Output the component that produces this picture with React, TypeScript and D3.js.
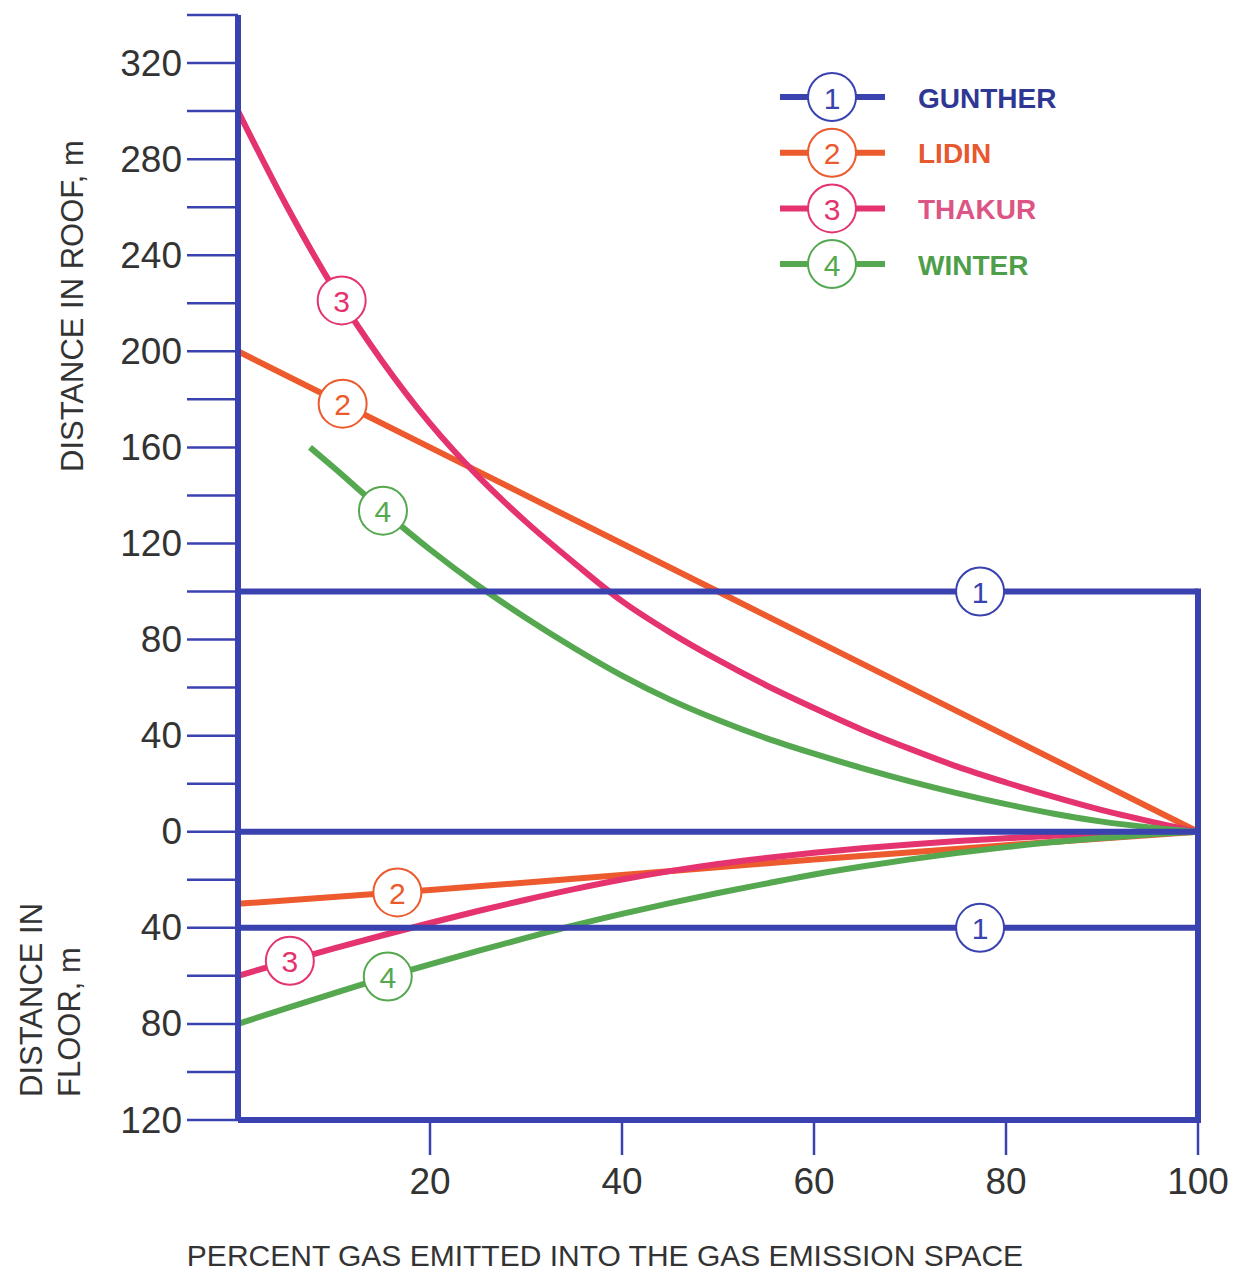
import * as d3 from 'd3';

// percent gas emitted vs distance (m); floor distances are positive downward
const gunther = { roof: 100, floor: 40 };
const lidinRoof: [number, number][] = [[0, 200], [25, 150], [50, 100], [75, 50], [100, 0]];
const thakurRoof: [number, number][] = [
	[0, 300], [5, 261], [10, 226], [15, 196], [20, 170], [25, 148], [30, 129], [35, 112], [40, 96],
	[45, 83], [50, 71.5], [55, 61], [60, 51.5], [65, 42.5], [70, 34.5], [75, 27], [80, 20.5],
	[85, 14.5], [90, 9], [95, 4.3], [100, 0],
];
const winterRoof: [number, number][] = [
	[7.5, 160], [10, 151.5], [15, 134], [20, 117.5], [25, 102.5], [30, 89], [35, 76.5], [40, 65],
	[45, 55], [50, 46.5], [55, 39], [60, 32.5], [65, 26.5], [70, 21], [75, 16], [80, 11.5],
	[85, 7.5], [90, 4.2], [95, 1.8], [100, 0],
];
const lidinFloor: [number, number][] = [[0, 30], [20, 24.3], [40, 18], [60, 11.6], [80, 5.6], [100, 0]];
const thakurFloor: [number, number][] = [
	[0, 60], [5, 54.2], [10, 48.6], [15, 43.2], [20, 38], [25, 33], [30, 28.3], [35, 23.9], [40, 19.9],
	[45, 16.4], [50, 13.4], [55, 10.9], [60, 8.75], [65, 6.9], [70, 5.3], [75, 3.9], [80, 2.7],
	[85, 1.7], [90, 0.9], [95, 0.3], [100, 0],
];
const winterFloor: [number, number][] = [
	[0, 80], [5, 73.5], [10, 67.2], [15, 61], [20, 55.2], [25, 49.6], [30, 44.2], [35, 39], [40, 34.2],
	[45, 29.7], [50, 25.5], [55, 21.6], [60, 17.8], [65, 14.5], [70, 11.5], [75, 8.8], [80, 6.4],
	[85, 4.3], [90, 2.6], [95, 1.1], [100, 0],
];

const xTicks = [20, 40, 60, 80, 100];
const yMinor = d3.range(-120, 341, 20);
const yLabels = [320, 280, 240, 200, 160, 120, 80, 40, 0, -40, -80, -120];

const legendItems = [
	{ n: '1', name: 'GUNTHER', color: '#3a42b0', text: '#2f3794' },
	{ n: '2', name: 'LIDIN', color: '#ec5a2e', text: '#e8582e' },
	{ n: '3', name: 'THAKUR', color: '#e4336e', text: '#dc5585' },
	{ n: '4', name: 'WINTER', color: '#55a84f', text: '#4f9e4a' },
];

// where the numbered circles sit along each curve (x in percent)
const curveLabels = [
	{ n: '3', data: thakurRoof, sign: 1, at: 10.8, color: '#e4336e' },
	{ n: '2', data: lidinRoof, sign: 1, at: 10.9, color: '#ec5a2e' },
	{ n: '4', data: winterRoof, sign: 1, at: 15.1, color: '#55a84f' },
	{ n: '2', data: lidinFloor, sign: -1, at: 16.6, color: '#ec5a2e' },
	{ n: '3', data: thakurFloor, sign: -1, at: 5.4, color: '#e4336e' },
	{ n: '4', data: winterFloor, sign: -1, at: 15.6, color: '#55a84f' },
];
const guntherLabelAt = 77.3;

const BLUE = '#3a42b0';
const FONT = '"Liberation Sans", Arial, sans-serif';

export default function App() {
	const width = 1236;
	const height = 1274;
	const x = d3.scaleLinear().domain([0, 100]).range([238, 1198]);
	const y = d3.scaleLinear().domain([-120, 340]).range([1120, 15]);

	const line = d3
		.line<[number, number]>()
		.x(d => x(d[0]))
		.y(d => y(d[1]))
		.curve(d3.curveMonotoneX);

	const roof = (d: [number, number][]) => line(d) as string;
	const floor = (d: [number, number][]) => line(d.map(p => [p[0], -p[1]] as [number, number])) as string;

	const valueAt = (data: [number, number][], at: number) => {
		const i = Math.max(1, d3.bisector((d: [number, number]) => d[0]).left(data, at));
		const a = data[i - 1];
		const b = data[i];
		return a[1] + ((b[1] - a[1]) * (at - a[0])) / (b[0] - a[0]);
	};

	const badge = (cx: number, cy: number, n: string, color: string, key: string) => (
		<g key={key}>
			<circle cx={cx} cy={cy} r={24} fill="#fff" stroke={color} strokeWidth={2} />
			<text x={cx} y={cy + 1} textAnchor="middle" dominantBaseline="central" fontSize={30} fill={color} fontFamily={FONT}>
				{n}
			</text>
		</g>
	);

	return (
		<svg width={width} height={height} style={{ position: 'absolute', left: 0, top: 0, background: '#fff' }}>
			{/* y ticks */}
			{yMinor.map(v => (
				<line key={'yt' + v} x1={187} x2={x(0)} y1={y(v)} y2={y(v)} stroke={BLUE} strokeWidth={2.5} />
			))}
			{yLabels.map(v => (
				<text key={'yl' + v} x={182} y={y(v)} textAnchor="end" dominantBaseline="central" fontSize={37} fill="#333" fontFamily={FONT}>
					{Math.abs(v)}
				</text>
			))}
			{/* x ticks */}
			{xTicks.map(v => (
				<g key={'xt' + v}>
					<line x1={x(v)} x2={x(v)} y1={y(-120)} y2={1155} stroke={BLUE} strokeWidth={2.5} />
					<text x={x(v)} y={1181} textAnchor="middle" dominantBaseline="central" fontSize={37} fill="#333" fontFamily={FONT}>
						{v}
					</text>
				</g>
			))}

			{/* curves */}
			<g fill="none" strokeWidth={6} strokeLinecap="butt">
				<path d={roof(lidinRoof)} stroke="#ec5a2e" />
				<path d={roof(thakurRoof)} stroke="#e4336e" />
				<path d={roof(winterRoof)} stroke="#55a84f" />
				<path d={floor(lidinFloor)} stroke="#ec5a2e" />
				<path d={floor(thakurFloor)} stroke="#e4336e" />
				<path d={floor(winterFloor)} stroke="#55a84f" />
			</g>

			{/* frame and Gunther lines */}
			<g stroke={BLUE} strokeWidth={6} fill="none">
				<line x1={x(0)} x2={x(0)} y1={y(340)} y2={y(-120)} />
				<line x1={x(0)} x2={x(100)} y1={y(-120)} y2={y(-120)} />
				<line x1={x(0)} x2={x(100)} y1={y(0)} y2={y(0)} />
				<line x1={x(0)} x2={x(100)} y1={y(gunther.roof)} y2={y(gunther.roof)} />
				<line x1={x(0)} x2={x(100)} y1={y(-gunther.floor)} y2={y(-gunther.floor)} />
				<line x1={x(100)} x2={x(100)} y1={y(gunther.roof) - 3} y2={y(-120) + 3} />
			</g>

			{badge(x(guntherLabelAt), y(gunther.roof), '1', BLUE, 'g1')}
			{badge(x(guntherLabelAt), y(-gunther.floor), '1', BLUE, 'g2')}
			{curveLabels.map((l, i) => badge(x(l.at), y(l.sign * valueAt(l.data, l.at)), l.n, l.color, 'cl' + i))}

			{/* legend */}
			{legendItems.map((d, i) => {
				const ly = 97 + i * 55.7;
				return (
					<g key={'lg' + i}>
						<line x1={780} x2={885} y1={ly} y2={ly} stroke={d.color} strokeWidth={6} />
						{badge(832, ly, d.n, d.color, 'lb' + i)}
						<text x={918} y={ly + 1} dominantBaseline="central" fontSize={28} fontWeight="bold" fill={d.text} fontFamily={FONT}>
							{d.name}
						</text>
					</g>
				);
			})}

			{/* axis titles */}
			<text transform="translate(83,472) rotate(-90)" fontSize={31} fill="#333" fontFamily={FONT}>
				DISTANCE IN ROOF, m
			</text>
			<text transform="rotate(-90)" fontSize={31} fill="#333" fontFamily={FONT}>
				<tspan x={-1097} y={42}>DISTANCE IN</tspan>
				<tspan x={-1097} y={80}>FLOOR, m</tspan>
			</text>
			<text x={605} y={1266} textAnchor="middle" fontSize={30} fill="#333" fontFamily={FONT}>
				PERCENT GAS EMITTED INTO THE GAS EMISSION SPACE
			</text>
		</svg>
	);
}
